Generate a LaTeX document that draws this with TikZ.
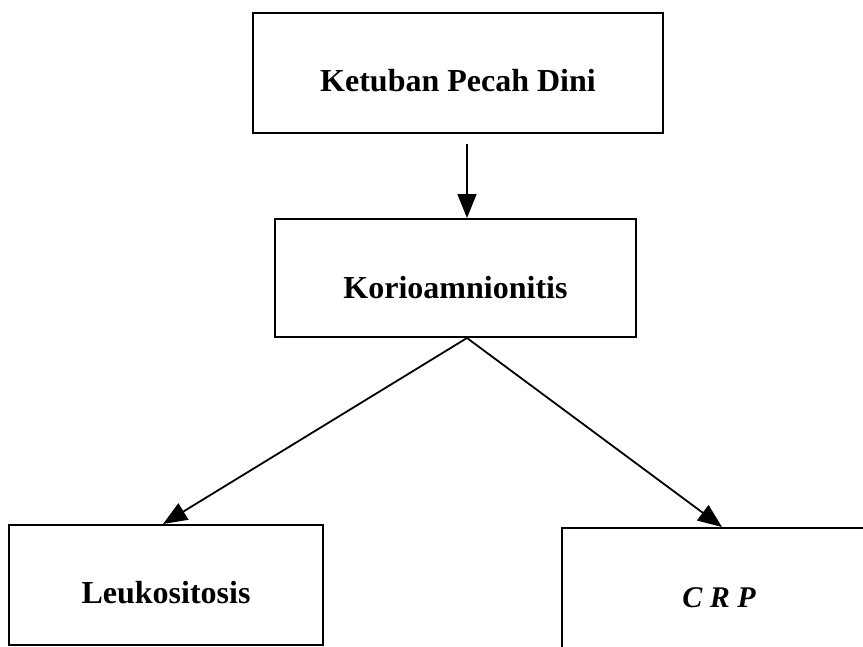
\documentclass[tikz,border=0pt]{standalone}
\usepackage{fontspec}
\setmainfont{Liberation Serif}
\usetikzlibrary{arrows.meta}
\begin{document}
\begin{tikzpicture}[x=1pt,y=-1pt,
  box/.style={draw, line width=2pt, inner sep=0pt, text height=36pt, text depth=0pt,
    font=\fontsize{32}{36}\selectfont\bfseries},
  conn/.style={line width=1.8pt, -{Triangle[length=24pt,width=19pt]}}]
\useasboundingbox (0,0) rectangle (863,646);
\clip (0,0) rectangle (863,646);
\fill[white] (0,0) rectangle (863,646);
\node[box, minimum width=410pt, minimum height=120pt] (top) at (458,73) {Ketuban Pecah Dini};
\node[box, minimum width=361pt, minimum height=118pt, text height=40pt] (mid) at (455.5,278) {Korioamnionitis};
\node[box, minimum width=314pt, minimum height=120pt] (left) at (166,585) {Leukositosis};
\node[box, minimum width=314pt, minimum height=120pt, text height=38pt,
  font=\fontsize{30}{36}\selectfont\bfseries\itshape] (right) at (719,588) {C R P};
\coordinate (split) at (467,338);
\coordinate (a) at ([yshift=-10pt]top.south);
\draw[conn] (a -| split) -- (mid.north -| split);
\draw[conn] (split) -- ([xshift=-3pt]left.north);
\draw[conn] (split) -- ([xshift=3pt]right.north);
\end{tikzpicture}
\end{document}
